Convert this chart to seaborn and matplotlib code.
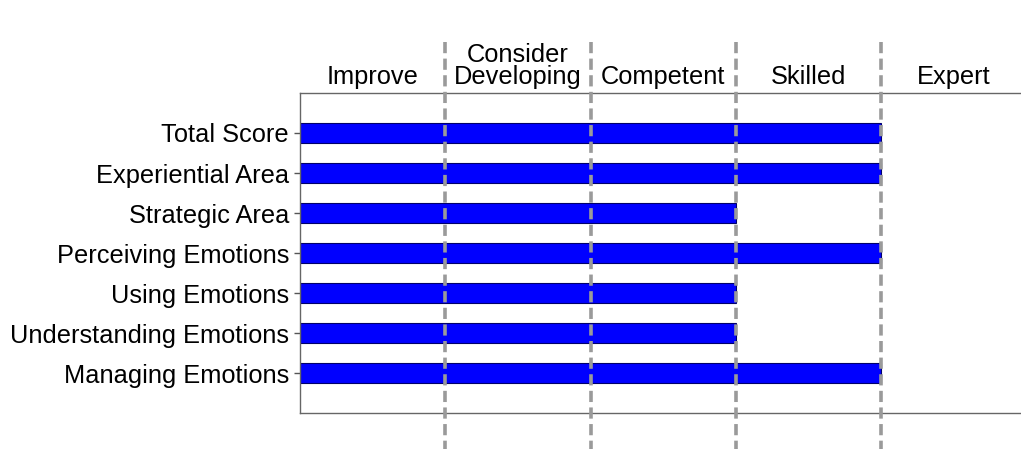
import matplotlib
matplotlib.use("Agg")
import matplotlib.pyplot as plt
import seaborn as sns

# data
categories = [
    "Total Score",
    "Experiential Area",
    "Strategic Area",
    "Perceiving Emotions",
    "Using Emotions",
    "Understanding Emotions",
    "Managing Emotions",
]
scores = [4, 4, 3, 4, 3, 3, 4]
levels = ["Improve", "Consider\nDeveloping", "Competent", "Skilled", "Expert"]
level_edges = [1, 2, 3, 4]

sns.set_style("white")
plt.rcParams["font.family"] = ["Liberation Sans", "DejaVu Sans"]

fig = plt.figure(figsize=(10.21, 4.49), dpi=100)
ax = fig.add_axes([300 / 1021, 36 / 449, 721 / 1021, 320 / 449])

sns.barplot(x=scores, y=categories, orient="h", color="#0000ff", saturation=1,
            width=0.5, edgecolor="#00006a", linewidth=0.8, ax=ax)

ax.set_xlim(0, 721 / 145.25)
ax.set_ylim(7, -1)
ax.set_xlabel("")
ax.set_ylabel("")
ax.set_xticks([])

for x in level_edges:
    ax.plot([x, x], [-2.28, 8.2], color="#9a9a9a", lw=2.6, ls=(0, (3.1, 1.5)),
            clip_on=False, zorder=5, solid_capstyle="butt", dash_capstyle="butt")

for i, name in enumerate(levels):
    ax.text(i + 0.5, 1.028, name, transform=ax.get_xaxis_transform(),
            ha="center", va="baseline", fontsize=18.3, linespacing=0.9,
            multialignment="center", color="black")

ax.tick_params(axis="y", labelsize=18.3, length=4, width=1, pad=4,
               left=True, color="#555555", labelcolor="black")
for side in ["left", "top", "bottom"]:
    ax.spines[side].set_color("#666666")
    ax.spines[side].set_linewidth(1.0)
ax.spines["right"].set_visible(False)

fig.savefig("out.png", dpi=100)
